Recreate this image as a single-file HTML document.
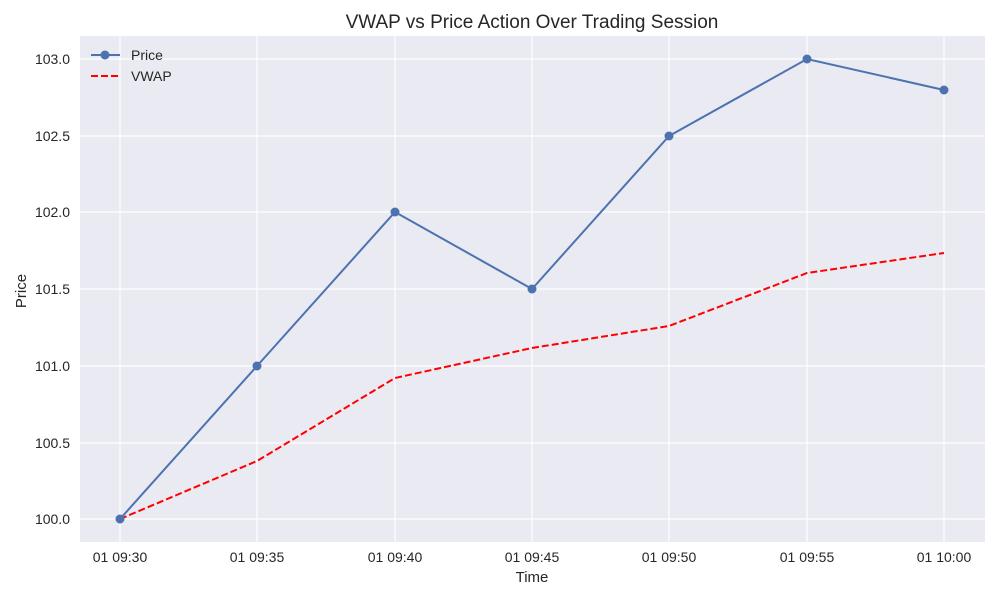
<!DOCTYPE html>
<html><head><meta charset="utf-8"><style>body{margin:0;background:#fff}svg{display:block}</style></head><body>
<svg width="1000" height="600" xmlns="http://www.w3.org/2000/svg" font-family="Liberation Sans, sans-serif">
<rect width="1000" height="600" fill="#fff"/>
<rect x="80" y="36" width="905" height="506" fill="#eaeaf2"/>
<g stroke="#fff" stroke-width="1.2">
<line x1="80" x2="985" y1="59" y2="59"/><line x1="80" x2="985" y1="136" y2="136"/><line x1="80" x2="985" y1="212" y2="212"/><line x1="80" x2="985" y1="289" y2="289"/><line x1="80" x2="985" y1="366" y2="366"/><line x1="80" x2="985" y1="443" y2="443"/><line x1="80" x2="985" y1="519" y2="519"/>
<line y1="36" y2="542" x1="120" x2="120"/><line y1="36" y2="542" x1="257" x2="257"/><line y1="36" y2="542" x1="395" x2="395"/><line y1="36" y2="542" x1="532" x2="532"/><line y1="36" y2="542" x1="669" x2="669"/><line y1="36" y2="542" x1="807" x2="807"/><line y1="36" y2="542" x1="944" x2="944"/>
</g>
<polyline points="120,519 257,461 395,378 532,348 669,326 807,273 944,253" fill="none" stroke="#ff0000" stroke-width="2" stroke-dasharray="7,3"/>
<polyline points="120,519 257,366 395,212 532,289 669,136 807,59 944,90" fill="none" stroke="#4c72b0" stroke-width="2"/>
<g fill="#4c72b0"><circle cx="120" cy="519" r="4.5"/><circle cx="257" cy="366" r="4.5"/><circle cx="395" cy="212" r="4.5"/><circle cx="532" cy="289" r="4.5"/><circle cx="669" cy="136" r="4.5"/><circle cx="807" cy="59" r="4.5"/><circle cx="944" cy="90" r="4.5"/></g>
<g font-size="14" fill="#262626" text-anchor="end">
<text x="70" y="64">103.0</text><text x="70" y="141">102.5</text><text x="70" y="217">102.0</text><text x="70" y="294">101.5</text><text x="70" y="371">101.0</text><text x="70" y="448">100.5</text><text x="70" y="524">100.0</text>
</g>
<g font-size="14" fill="#262626" text-anchor="middle">
<text x="120" y="562">01 09:30</text><text x="257" y="562">01 09:35</text><text x="395" y="562">01 09:40</text><text x="532" y="562">01 09:45</text><text x="669" y="562">01 09:50</text><text x="807" y="562">01 09:55</text><text x="944" y="562">01 10:00</text>
<text x="532" y="582" font-size="15">Time</text>
<text x="532" y="28" font-size="19">VWAP vs Price Action Over Trading Session</text>
</g>
<text transform="translate(26,291) rotate(-90)" font-size="15" fill="#262626" text-anchor="middle">Price</text>
<line x1="91" x2="120" y1="55" y2="55" stroke="#4c72b0" stroke-width="2"/><circle cx="105" cy="55" r="4.5" fill="#4c72b0"/>
<line x1="91" x2="120" y1="76" y2="76" stroke="#ff0000" stroke-width="2" stroke-dasharray="7,3"/>
<text x="131" y="60" font-size="14" fill="#262626">Price</text>
<text x="131" y="81" font-size="14" fill="#262626">VWAP</text>
</svg>
</body></html>
